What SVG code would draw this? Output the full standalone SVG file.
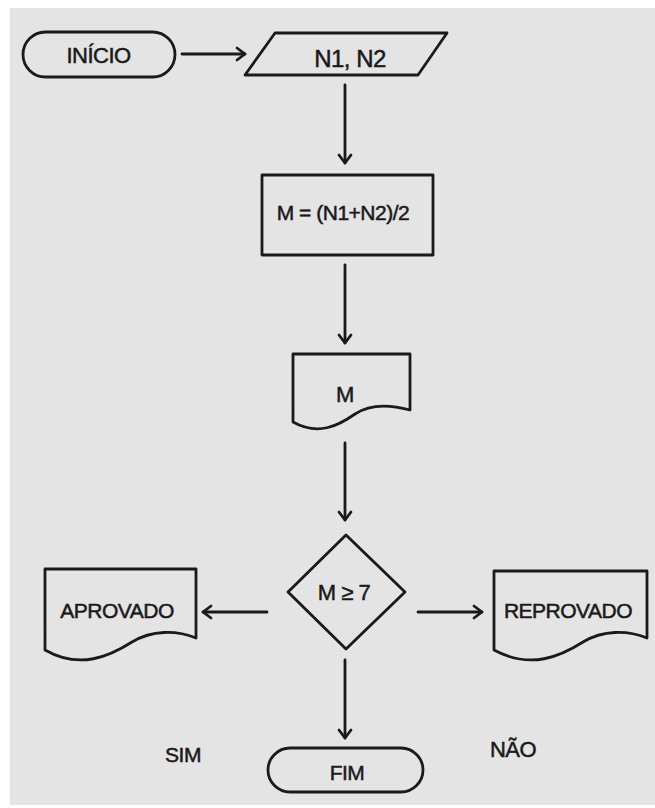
<svg xmlns="http://www.w3.org/2000/svg" width="655" height="808" viewBox="0 0 655 808">
<style>
.s{fill:none;stroke:#1a1a1a;stroke-width:2.8;stroke-linejoin:round;stroke-linecap:round}
.t{font-family:"Liberation Sans",Arial,sans-serif;fill:#1a1a1a;stroke:#1a1a1a;stroke-width:0.5;text-anchor:middle;font-size:21px;letter-spacing:-0.5px}
.c{fill:none;stroke:#1a1a1a;stroke-width:2.8;stroke-linecap:round}
</style>
<defs>
<marker id="ah" markerWidth="14" markerHeight="16" refX="11" refY="8" orient="auto" markerUnits="userSpaceOnUse">
<path d="M3,2 L11,8 L3,14" fill="none" stroke="#1a1a1a" stroke-width="2.8" stroke-linecap="round" stroke-linejoin="round"/>
</marker>
</defs>
<rect x="0" y="0" width="655" height="808" fill="#ffffff"/>
<rect x="10" y="8" width="645" height="797" fill="#e4e4e4"/>
<g id="inicio">
<rect class="s" x="23" y="32" width="152" height="45" rx="22.5" ry="22.5"/>
<text class="t" x="98.5" y="63" style="font-size:22px">INÍCIO</text>
</g>
<g id="entrada">
<polygon class="s" points="275,33 447,33 418,75 245,75"/>
<text class="t" x="350" y="67" style="font-size:24px">N1, N2</text>
</g>
<g id="calculo">
<rect class="s" x="262" y="175" width="171" height="80"/>
<text class="t" x="343" y="220">M = (N1+N2)/2</text>
</g>
<g id="saida-m">
<path class="s" d="M293,354 H410 V410 C388,404 370,404 355,414 C338,426 318,436 293,422 Z"/>
<text class="t" x="345" y="402" style="font-size:22px">M</text>
</g>
<g id="decisao">
<polygon class="s" points="346,535 405,592 346,649 288,592"/>
<text class="t" x="344" y="600" style="font-size:22px">M ≥ 7</text>
</g>
<g id="aprovado">
<path class="s" d="M45,569 H196 V638 C176,630 152,630 132,642 C110,656 80,670 45,650 Z"/>
<text class="t" x="117" y="618">APROVADO</text>
</g>
<g id="reprovado">
<path class="s" d="M494,571 H647 V638 C627,630 603,630 583,642 C561,656 531,670 494,650 Z"/>
<text class="t" x="568" y="618">REPROVADO</text>
</g>
<g id="fim">
<rect class="s" x="268" y="748" width="155" height="44" rx="22" ry="22"/>
<text class="t" x="347" y="780">FIM</text>
</g>
<g id="connectors">
<line class="c" x1="182" y1="54" x2="245" y2="54" marker-end="url(#ah)"/>
<line class="c" x1="345" y1="85" x2="345" y2="163" marker-end="url(#ah)"/>
<line class="c" x1="345" y1="265" x2="345" y2="343" marker-end="url(#ah)"/>
<line class="c" x1="345" y1="443" x2="345" y2="520" marker-end="url(#ah)"/>
<line class="c" x1="267" y1="612" x2="203" y2="612" marker-end="url(#ah)"/>
<line class="c" x1="418" y1="612" x2="482" y2="612" marker-end="url(#ah)"/>
<line class="c" x1="345" y1="660" x2="345" y2="738" marker-end="url(#ah)"/>
</g>
<g id="labels">
<text class="t" x="183" y="762">SIM</text>
<text class="t" x="513" y="757" style="font-size:22px">NÃO</text>
</g>
</svg>
